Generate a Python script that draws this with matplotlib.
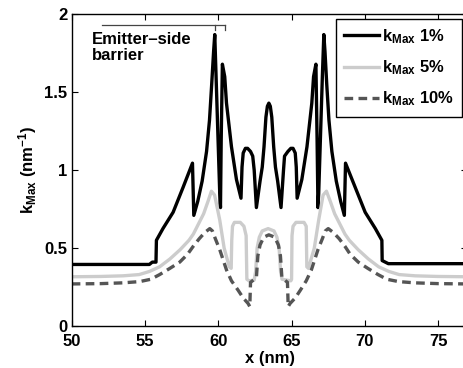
import matplotlib
matplotlib.use('Agg')
import matplotlib.pyplot as plt

plt.rcParams['font.family'] = 'Liberation Sans'
plt.rcParams['font.weight'] = 'bold'
plt.rcParams['mathtext.fontset'] = 'custom'
plt.rcParams['mathtext.rm'] = 'Liberation Sans:bold'
plt.rcParams['mathtext.bf'] = 'Liberation Sans:bold'
plt.rcParams['mathtext.it'] = 'Liberation Sans:bold'

# kMax 1 % (black)
x_1 = [50, 55.3, 55.5, 55.75, 55.78, 56.23, 56.92, 57.6, 58.24, 58.33, 58.6, 58.9,
       59.2, 59.4, 59.55, 59.68, 59.76, 59.85, 60.1, 60.15, 60.2, 60.28, 60.44, 60.56,
       60.9, 61.24, 61.55, 61.62, 61.7, 61.85, 62.0, 62.2, 62.35, 62.45, 62.6, 62.85,
       63.0, 63.12, 63.25, 63.35, 63.45, 63.55, 63.65, 63.78, 63.9, 64.05, 64.28, 64.45,
       64.52, 64.75, 64.95, 65.1, 65.25, 65.32, 65.38, 65.7, 66.05, 66.38, 66.5, 66.66,
       66.74, 66.8, 66.85, 67.1, 67.2, 67.28, 67.4, 67.55, 67.75, 68.05, 68.35, 68.6,
       68.68, 69.34, 70.02, 70.71, 71.16, 71.18, 71.6, 77]
k_1 = [0.395, 0.395, 0.41, 0.41, 0.55, 0.626, 0.73, 0.89, 1.045, 0.71, 0.80, 0.93,
       1.12, 1.32, 1.55, 1.76, 1.87, 1.6, 0.85, 0.76, 1.2, 1.68, 1.6, 1.43,
       1.15, 0.94, 0.82, 1.02, 1.11, 1.14, 1.14, 1.12, 1.09, 1.0, 0.76, 0.93,
       1.02, 1.15, 1.34, 1.41, 1.43, 1.41, 1.34, 1.15, 1.02, 0.93, 0.76, 1.0,
       1.09, 1.12, 1.14, 1.14, 1.11, 1.02, 0.82, 0.94, 1.15, 1.43, 1.6, 1.68,
       1.2, 0.76, 0.85, 1.6, 1.87, 1.76, 1.55, 1.32, 1.12, 0.93, 0.80, 0.71,
       1.045, 0.89, 0.73, 0.626, 0.55, 0.42, 0.40, 0.40]

# kMax 5 % (light grey)
x_5 = [50, 52, 53.5, 54.6, 55.3, 56.0, 56.7, 57.4, 58.0, 58.3, 59.0, 59.3, 59.53,
       59.75, 60.1, 60.4, 60.75, 60.88, 60.92, 60.97, 61.1, 61.5, 61.75, 61.9, 61.95,
       62.1, 62.45, 62.55, 62.65, 62.8, 63.0, 63.4, 63.8, 64.0, 64.15, 64.25, 64.35,
       64.95, 65.0, 65.03, 65.1, 65.3, 65.85, 66.0, 66.04, 66.15, 66.55, 66.85, 67.15,
       67.38, 67.64, 67.94, 68.64, 68.94, 69.54, 70.24, 70.94, 71.64, 72.34, 73.44,
       74.94, 77]
k_5 = [0.316, 0.318, 0.322, 0.33, 0.35, 0.38, 0.43, 0.49, 0.55, 0.59, 0.72, 0.80, 0.865,
       0.84, 0.68, 0.50, 0.38, 0.37, 0.55, 0.64, 0.665, 0.665, 0.64, 0.58, 0.30,
       0.29, 0.295, 0.35, 0.50, 0.57, 0.61, 0.625, 0.61, 0.57, 0.50, 0.35, 0.30,
       0.29, 0.30, 0.58, 0.64, 0.665, 0.665, 0.64, 0.38, 0.37, 0.50, 0.68, 0.84,
       0.865, 0.80, 0.72, 0.59, 0.55, 0.49, 0.43, 0.38, 0.35, 0.33, 0.322,
       0.318, 0.316]

# kMax 10 % (dark grey, dashed)
x_10 = [50, 52, 53.5, 54.64, 55.4, 56.0, 56.7, 57.37, 57.9, 58.28, 58.7, 59.08, 59.42,
        59.6, 59.8, 60.1, 60.56, 60.9, 61.35, 61.7, 62.03, 62.15, 62.2, 62.6, 62.7,
        62.85, 63.1, 63.45, 63.85, 64.1, 64.24, 64.34, 64.72, 64.77, 64.9, 65.25, 65.6,
        66.0, 66.35, 66.8, 67.1, 67.3, 67.5, 67.85, 68.25, 68.65, 69.0, 69.55, 70.2,
        70.9, 71.5, 72.3, 73.4, 75, 77]
k_10 = [0.27, 0.272, 0.277, 0.285, 0.30, 0.33, 0.37, 0.41, 0.46, 0.51, 0.56, 0.60, 0.625,
        0.61, 0.56, 0.49, 0.36, 0.29, 0.23, 0.18, 0.145, 0.125, 0.28, 0.31, 0.45,
        0.52, 0.57, 0.585, 0.57, 0.52, 0.45, 0.31, 0.28, 0.125, 0.145, 0.18, 0.23,
        0.29, 0.36, 0.49, 0.56, 0.61, 0.625, 0.60, 0.56, 0.51, 0.46, 0.41, 0.37,
        0.33, 0.30, 0.285, 0.277, 0.272, 0.27]

x_ticks = [50, 55, 60, 65, 70, 75]
y_ticks = [0, 0.5, 1, 1.5, 2]
y_ticklabels = ['0', '0.5', '1', '1.5', '2']

fig = plt.figure(figsize=(4.64, 3.68), dpi=100)
ax = fig.add_axes([0.1545, 0.1141, 0.853, 0.847])

ax.plot(x_1, k_1, color='black', lw=2.4, label=r'k$_{\mathbf{Max}}$ 1%')
ax.plot(x_5, k_5, color='#cccccc', lw=2.4, label=r'k$_{\mathbf{Max}}$ 5%')
ax.plot(x_10, k_10, color='#555555', lw=2.4, linestyle=(0, (2.6, 1.6)),
        label=r'k$_{\mathbf{Max}}$ 10%')

ax.set_xlim(50, 77)
ax.set_ylim(0, 2)
ax.set_xticks(x_ticks)
ax.set_yticks(y_ticks)
ax.set_yticklabels(y_ticklabels)
ax.tick_params(direction='in', top=True, right=True, labelsize=12, length=4, width=0.8)
ax.tick_params(axis='x', pad=6)
ax.tick_params(axis='y', pad=3)
for s in ax.spines.values():
    s.set_linewidth(1.0)

ax.set_xlabel('x (nm)', fontsize=12, fontweight='bold', labelpad=1)
ax.set_ylabel(r'k$_{\mathbf{Max}}$ (nm$^{\mathbf{-1}}$)', fontsize=12, fontweight='bold', labelpad=4)

# bracket marking the emitter-side barrier
ax.plot([52.1, 60.44], [1.934, 1.934], color='#444444', lw=0.9)
ax.plot([59.81, 59.81], [1.934, 1.90], color='#444444', lw=0.9)
ax.plot([60.44, 60.44], [1.934, 1.90], color='#444444', lw=0.9)
ax.text(51.35, 1.885, 'Emitter\u2013side\nbarrier', fontsize=12, fontweight='bold',
        va='top', ha='left', linespacing=1.1)

leg = ax.legend(loc='upper right', bbox_to_anchor=(462.5 / 464, 1 - 19 / 368),
                bbox_transform=fig.transFigure, borderaxespad=0, fontsize=12,
                fancybox=False, framealpha=1, edgecolor='black', handlelength=2.1,
                handletextpad=0.2, labelspacing=0.75, borderpad=0.5)
leg.get_frame().set_linewidth(1.0)

fig.savefig('out.png', dpi=100)
